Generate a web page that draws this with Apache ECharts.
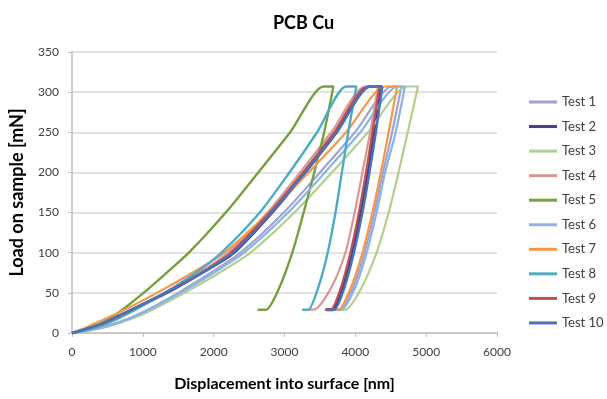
<!DOCTYPE html>
<html>
<head>
<meta charset="utf-8">
<script src="https://cdn.jsdelivr.net/npm/echarts@6/dist/echarts.min.js"></script>
<style>
  html, body { margin: 0; padding: 0; background: #fff; }
  #chart { width: 607px; height: 399px; }
</style>
</head>
<body>
<div id="chart"></div>
<script>
// [displacement nm, load mN]: loading, hold, unloading, hold at 10%
const test1 = [[0,0],[330,5],[610,12],[975,25],[1500,50],[1960,75],[2380,100],[2990,150],[3500,200],[3995,250],[4520,307],[4650,307],[4520,250],[4390,200],[4270,150],[4130,100],[3960,55],[3780,29],[3700,29]];
const test2 = [[0,0],[200,5],[450,12],[755,25],[1330,50],[1830,75],[2280,100],[2820,150],[3290,200],[3730,250],[4200,307],[4365,307],[4270,250],[4180,200],[4080,150],[3960,100],[3820,55],[3680,29],[3590,29]];
const test3 = [[0,0],[360,5],[650,12],[1040,25],[1590,50],[2080,75],[2520,100],[3140,150],[3670,200],[4180,250],[4730,307],[4885,307],[4740,250],[4610,200],[4470,150],[4300,100],[4080,55],[3860,29],[3760,29]];
const test4 = [[0,0],[200,5],[440,12],[750,25],[1300,50],[1795,75],[2200,100],[2760,150],[3220,200],[3660,250],[4140,307],[4320,307],[4210,250],[4100,200],[3990,150],[3860,100],[3650,55],[3410,29],[3335,29]];
const test5 = [[0,0],[230,5],[410,12],[648,25],[1010,50],[1335,75],[1650,100],[2170,150],[2630,200],[3080,250],[3550,307],[3690,307],[3560,250],[3420,200],[3270,150],[3110,100],[2920,55],[2740,29],[2620,29]];
const test6 = [[0,0],[335,5],[620,12],[992,25],[1530,50],[2000,75],[2430,100],[3050,150],[3570,200],[4070,250],[4600,307],[4700,307],[4570,250],[4420,200],[4300,150],[4160,100],[3990,55],[3800,29],[3720,29]];
const test7 = [[0,0],[150,5],[325,12],[650,25],[1200,50],[1700,75],[2150,100],[2780,150],[3340,200],[3870,250],[4420,307],[4590,307],[4470,250],[4360,200],[4240,150],[4100,100],[3930,55],[3760,29],[3675,29]];
const test8 = [[0,0],[260,5],[500,12],[810,25],[1310,50],[1750,75],[2110,100],[2650,150],[3070,200],[3460,250],[3870,307],[4015,307],[3900,250],[3810,200],[3720,150],[3610,100],[3470,55],[3335,29],[3250,29]];
const test9 = [[0,0],[200,5],[440,12],[757,25],[1320,50],[1825,75],[2240,100],[2790,150],[3260,200],[3700,250],[4170,307],[4340,307],[4240,250],[4150,200],[4050,150],[3930,100],[3790,55],[3650,29],[3570,29]];
const test10 = [[0,0],[195,5],[430,12],[745,25],[1320,50],[1840,75],[2270,100],[2820,150],[3290,200],[3740,250],[4210,307],[4380,307],[4290,250],[4200,200],[4100,150],[3980,100],[3840,55],[3700,29],[3620,29]];

const testNames = ["Test 1", "Test 2", "Test 3", "Test 4", "Test 5", "Test 6", "Test 7", "Test 8", "Test 9", "Test 10"];
const testData = [test1, test2, test3, test4, test5, test6, test7, test8, test9, test10];
const testColors = ["#9fa3d6", "#4b3c8c", "#b3cf8b", "#d99795", "#77a03c", "#8db3e2", "#f79646", "#4bacc6", "#c0504d", "#4a72b8"];
const testWidths = [2.2, 3.2, 2.2, 2.2, 2.4, 2.2, 2.2, 2.4, 2.2, 2.4];

const chart = echarts.init(document.getElementById("chart"));

const fontFamily = "Lato";

chart.setOption({
  animation: false,
  title: {
    text: "PCB Cu",
    left: "center",
    top: 9,
    textStyle: { fontFamily: fontFamily, fontSize: 18, fontWeight: "bold", color: "#000" }
  },
  legend: {
    orient: "vertical",
    left: 524,
    top: 90,
    icon: "rect",
    itemWidth: 28,
    itemHeight: 3,
    itemGap: 10.55,
    textStyle: { fontFamily: fontFamily, fontSize: 13, color: "#404040", lineHeight: 14 },
    data: testNames
  },
  grid: {
    left: 71,
    right: 110,
    top: 52,
    bottom: 66
  },
  xAxis: {
    type: "value",
    min: 0,
    max: 6000,
    interval: 1000,
    name: "Displacement into surface [nm]",
    nameLocation: "middle",
    nameGap: 43,
    nameTextStyle: { fontFamily: fontFamily, fontSize: 16, fontWeight: "bold", color: "#000" },
    axisLine: { lineStyle: { color: "#bfbfbf", width: 1.5 } },
    axisTick: { show: true, length: 4, lineStyle: { color: "#bfbfbf" } },
    axisLabel: { fontFamily: fontFamily, fontSize: 12, color: "#404040", margin: 13, formatter: (v) => String(v) },
    splitLine: { show: false }
  },
  yAxis: {
    type: "value",
    min: 0,
    max: 350,
    interval: 50,
    name: "Load on sample [mN]",
    nameLocation: "middle",
    nameGap: 46,
    nameTextStyle: { fontFamily: fontFamily, fontSize: 18, fontWeight: "bold", color: "#000" },
    axisLine: { show: true, lineStyle: { color: "#bfbfbf", width: 1.5 } },
    axisTick: { show: true, length: 4, lineStyle: { color: "#bfbfbf" } },
    axisLabel: { fontFamily: fontFamily, fontSize: 12, color: "#404040", margin: 13 },
    splitLine: { lineStyle: { color: "#d9d9d9", width: 1.5 } }
  },
  series: testNames.map((name, i) => ({
    name: name,
    type: "line",
    data: testData[i],
    symbol: "none",
    smooth: 0.25,
    color: testColors[i],
    lineStyle: { width: testWidths[i], color: testColors[i] }
  }))
});
</script>
</body>
</html>
